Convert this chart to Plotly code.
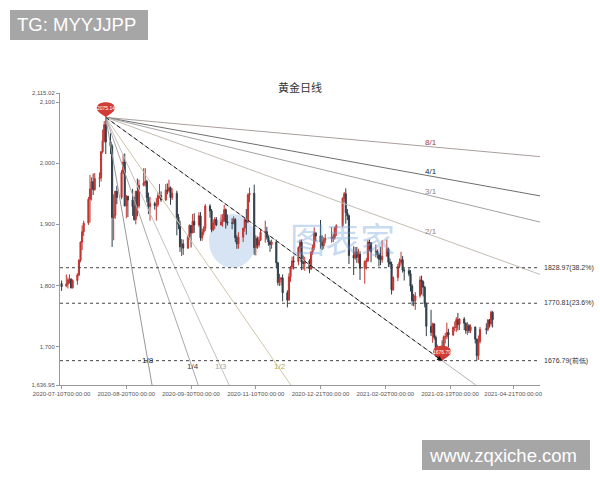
import pandas as pd
import plotly.graph_objects as go

# ---- daily gold candles (XAU/USD) ----
dates = [
    "2020-07-10", "2020-07-13", "2020-07-14", "2020-07-15", "2020-07-16", "2020-07-17",
    "2020-07-20", "2020-07-21", "2020-07-22", "2020-07-23", "2020-07-24",
    "2020-07-27", "2020-07-28", "2020-07-29", "2020-07-30", "2020-07-31",
    "2020-08-03", "2020-08-04", "2020-08-05", "2020-08-06", "2020-08-07",
    "2020-08-10", "2020-08-11", "2020-08-12", "2020-08-13", "2020-08-14",
    "2020-08-17", "2020-08-18", "2020-08-19", "2020-08-20", "2020-08-21",
    "2020-08-24", "2020-08-25", "2020-08-26", "2020-08-27", "2020-08-28", "2020-08-31",
    "2020-09-01", "2020-09-02", "2020-09-03", "2020-09-04",
    "2020-09-07", "2020-09-08", "2020-09-09", "2020-09-10", "2020-09-11",
    "2020-09-14", "2020-09-15", "2020-09-16", "2020-09-17", "2020-09-18",
    "2020-09-21", "2020-09-22", "2020-09-23", "2020-09-24", "2020-09-25",
    "2020-09-28", "2020-09-29", "2020-09-30",
    "2020-10-01", "2020-10-02",
    "2020-10-05", "2020-10-06", "2020-10-07", "2020-10-08", "2020-10-09",
    "2020-10-12", "2020-10-13", "2020-10-14", "2020-10-15", "2020-10-16",
    "2020-10-19", "2020-10-20", "2020-10-21", "2020-10-22", "2020-10-23",
    "2020-10-26", "2020-10-27", "2020-10-28", "2020-10-29", "2020-10-30",
    "2020-11-02", "2020-11-03", "2020-11-04", "2020-11-05", "2020-11-06",
    "2020-11-09", "2020-11-10", "2020-11-11", "2020-11-12", "2020-11-13",
    "2020-11-16", "2020-11-17", "2020-11-18", "2020-11-19", "2020-11-20",
    "2020-11-23", "2020-11-24", "2020-11-25", "2020-11-26", "2020-11-27", "2020-11-30",
    "2020-12-01", "2020-12-02", "2020-12-03", "2020-12-04",
    "2020-12-07", "2020-12-08", "2020-12-09", "2020-12-10", "2020-12-11",
    "2020-12-14", "2020-12-15", "2020-12-16", "2020-12-17", "2020-12-18",
    "2020-12-21", "2020-12-22", "2020-12-23", "2020-12-24",
    "2020-12-28", "2020-12-29", "2020-12-30", "2020-12-31",
    "2021-01-04", "2021-01-05", "2021-01-06", "2021-01-07", "2021-01-08",
    "2021-01-11", "2021-01-12", "2021-01-13", "2021-01-14", "2021-01-15",
    "2021-01-18", "2021-01-19", "2021-01-20", "2021-01-21", "2021-01-22",
    "2021-01-25", "2021-01-26", "2021-01-27", "2021-01-28", "2021-01-29",
    "2021-02-01", "2021-02-02", "2021-02-03", "2021-02-04", "2021-02-05",
    "2021-02-08", "2021-02-09", "2021-02-10", "2021-02-11", "2021-02-12",
    "2021-02-15", "2021-02-16", "2021-02-17", "2021-02-18", "2021-02-19",
    "2021-02-22", "2021-02-23", "2021-02-24", "2021-02-25", "2021-02-26",
    "2021-03-01", "2021-03-02", "2021-03-03", "2021-03-04", "2021-03-05",
    "2021-03-08", "2021-03-09", "2021-03-10", "2021-03-11", "2021-03-12",
    "2021-03-15", "2021-03-16", "2021-03-17", "2021-03-18", "2021-03-19",
    "2021-03-22", "2021-03-23", "2021-03-24", "2021-03-25", "2021-03-26",
    "2021-03-29", "2021-03-30", "2021-03-31",
    "2021-04-01", "2021-04-05", "2021-04-06", "2021-04-07", "2021-04-08", "2021-04-09",
]

opens = [
    1803, 1799, 1802, 1809, 1810, 1796, 1808, 1817, 1841, 1871, 1888, 1902, 1941, 1958, 1970, 1957,
    1975, 1976, 2019, 2037, 2063, 2035, 2028, 1911, 1915, 1954, 1944, 1985, 2002, 1930, 1946,
    1940, 1929, 1908, 1954, 1930, 1964,
    1968, 1970, 1944, 1929, 1934, 1931, 1932, 1947, 1947, 1940, 1956, 1955, 1960, 1944, 1951,
    1912, 1900, 1863, 1868, 1861, 1880, 1898,
    1886, 1905, 1899, 1914, 1878, 1887, 1893, 1930, 1922, 1891, 1902, 1908, 1899, 1904, 1907,
    1924, 1904, 1902, 1902, 1908, 1878, 1868,
    1879, 1894, 1908, 1904, 1948, 1951, 1862, 1877, 1866, 1874, 1887, 1888, 1879, 1871, 1867,
    1871, 1837, 1805, 1810, 1812, 1788,
    1776, 1814, 1830, 1840, 1839, 1862, 1871, 1838, 1836, 1840, 1827, 1855, 1863, 1886, 1881,
    1871, 1865, 1874, 1877, 1879, 1878, 1894,
    1898, 1943, 1950, 1919, 1914, 1849, 1845, 1855, 1846, 1851, 1828, 1839, 1840, 1871, 1870,
    1855, 1856, 1850, 1843, 1842,
    1848, 1860, 1838, 1835, 1793, 1813, 1831, 1838, 1842, 1825, 1824, 1819, 1799, 1775, 1775,
    1783, 1809, 1806, 1797, 1770,
    1733, 1723, 1737, 1715, 1698, 1700, 1683, 1716, 1716, 1723, 1719, 1731, 1731, 1744, 1736,
    1745, 1738, 1726, 1734, 1726, 1732, 1712, 1685,
    1708, 1729, 1728, 1743, 1737, 1756,
]

highs = [
    1808, 1818, 1813, 1818, 1812, 1810, 1820, 1843, 1872, 1898, 1906, 1945, 1981, 1977, 1983, 1984,
    1985, 2020, 2055, 2069, 2075.14, 2049, 2031, 1949, 1955, 1963, 1989, 2015, 2016, 1948, 1946,
    1958, 1945, 1955, 1975, 1973, 1992,
    1992, 1973, 1952, 1945, 1937, 1943, 1952, 1966, 1954, 1966, 1967, 1973, 1962, 1959, 1955,
    1917, 1906, 1876, 1875, 1882, 1900, 1899,
    1917, 1918, 1920, 1920, 1893, 1897, 1933, 1933, 1925, 1908, 1912, 1912, 1916, 1917, 1932,
    1926, 1916, 1910, 1913, 1910, 1882, 1887,
    1894, 1910, 1925, 1951, 1960, 1965, 1882, 1880, 1880, 1892, 1906, 1896, 1883, 1874, 1875,
    1875, 1838, 1819, 1814, 1818, 1792,
    1820, 1832, 1847, 1848, 1864, 1875, 1875, 1849, 1847, 1843, 1855, 1867, 1895, 1887, 1907,
    1882, 1879, 1884, 1895, 1884, 1896, 1900,
    1944, 1953, 1959, 1925, 1916, 1864, 1863, 1863, 1860, 1856, 1841, 1845, 1874, 1875, 1870,
    1867, 1859, 1853, 1863, 1874,
    1875, 1862, 1844, 1839, 1815, 1835, 1844, 1855, 1848, 1828, 1828, 1825, 1802, 1786, 1789,
    1815, 1816, 1808, 1799, 1772,
    1760, 1739, 1738, 1718, 1703, 1710, 1718, 1722, 1739, 1729, 1733, 1741, 1748, 1755, 1746,
    1748, 1739, 1740, 1737, 1736, 1732, 1713, 1718,
    1732, 1738, 1745, 1745, 1759, 1758,
]

lows = [
    1791, 1797, 1795, 1803, 1795, 1795, 1801, 1815, 1838, 1858, 1881, 1899, 1903, 1939, 1948, 1955,
    1961, 1970, 2016, 2034, 2015, 2015, 1863, 1874, 1909, 1933, 1941, 1982, 1931, 1910, 1912,
    1914, 1906, 1900, 1913, 1926, 1962,
    1962, 1936, 1917, 1906, 1924, 1906, 1928, 1942, 1937, 1938, 1949, 1952, 1932, 1940, 1882,
    1892, 1855, 1848, 1850, 1860, 1875, 1862,
    1886, 1886, 1896, 1873, 1873, 1882, 1889, 1911, 1887, 1889, 1892, 1897, 1898, 1896, 1904,
    1893, 1898, 1892, 1900, 1871, 1860, 1860,
    1871, 1888, 1883, 1902, 1936, 1850, 1849, 1860, 1862, 1873, 1870, 1875, 1865, 1855, 1860,
    1828, 1800, 1799, 1800, 1774, 1764,
    1775, 1806, 1826, 1826, 1833, 1852, 1825, 1826, 1824, 1820, 1825, 1850, 1858, 1872, 1860,
    1858, 1860, 1869, 1870, 1871, 1875, 1881,
    1895, 1936, 1901, 1907, 1835, 1817, 1842, 1837, 1836, 1809, 1803, 1826, 1838, 1856, 1838,
    1846, 1844, 1831, 1833, 1837,
    1847, 1830, 1830, 1785, 1791, 1807, 1828, 1834, 1821, 1808, 1815, 1790, 1767, 1766, 1760,
    1780, 1785, 1782, 1764, 1717,
    1717, 1706, 1711, 1687, 1687, 1676.79, 1681, 1705, 1712, 1699, 1717, 1725, 1724, 1726, 1727,
    1727, 1721, 1719, 1722, 1722, 1705, 1677, 1678,
    1705, 1720, 1725, 1731, 1733, 1731,
]

closes = [
    1798, 1802, 1809, 1810, 1796, 1808, 1817, 1841, 1871, 1888, 1902, 1941, 1958, 1970, 1957, 1975,
    1976, 2019, 2037, 2063, 2035, 2028, 1911, 1915, 1954, 1944, 1985, 2002, 1930, 1946, 1940,
    1929, 1908, 1954, 1930, 1964, 1968,
    1970, 1944, 1929, 1934, 1931, 1932, 1947, 1947, 1940, 1956, 1955, 1960, 1944, 1951, 1912,
    1900, 1863, 1868, 1861, 1880, 1898, 1886,
    1905, 1899, 1914, 1878, 1887, 1893, 1930, 1922, 1891, 1902, 1908, 1899, 1904, 1907, 1924,
    1904, 1902, 1902, 1908, 1878, 1868, 1879,
    1894, 1908, 1904, 1948, 1951, 1862, 1877, 1866, 1874, 1887, 1888, 1879, 1871, 1867, 1871,
    1837, 1805, 1810, 1812, 1788, 1776,
    1814, 1830, 1840, 1839, 1862, 1871, 1838, 1836, 1840, 1827, 1855, 1863, 1886, 1881, 1871,
    1865, 1874, 1877, 1879, 1878, 1894, 1898,
    1943, 1950, 1919, 1914, 1849, 1845, 1855, 1846, 1851, 1828, 1839, 1840, 1871, 1870, 1855,
    1856, 1850, 1843, 1842, 1848,
    1860, 1838, 1835, 1793, 1813, 1831, 1838, 1842, 1825, 1824, 1819, 1799, 1775, 1775, 1783,
    1809, 1806, 1797, 1770, 1733,
    1723, 1737, 1715, 1698, 1700, 1683, 1716, 1716, 1723, 1719, 1731, 1731, 1744, 1736, 1745,
    1738, 1726, 1734, 1726, 1732, 1712, 1685, 1708,
    1728, 1728, 1743, 1737, 1756, 1744,
]

for name, arr in (("opens", opens), ("highs", highs), ("lows", lows), ("closes", closes)):
    if len(arr) != len(dates):
        raise ValueError(f"{name}: {len(arr)} values for {len(dates)} dates")

# ---- swing points and retracement levels ----
peak_date, peak_price = "2020-08-07", 2075.14
low_date, low_price = "2021-03-08", 1676.79

fib_levels = [1828.97, 1770.81, 1676.79]
fib_labels = ["1828.97(38.2%)", "1770.81(23.6%)", "1676.79(前低)"]

# Gann fan: slope factors relative to the 1/1 line (peak -> low)
fan_names = ["8/1", "4/1", "3/1", "2/1", "1/1", "1/2", "1/3", "1/4", "1/8"]
fan_factors = [1 / 8, 1 / 4, 1 / 3, 1 / 2, 1, 2, 3, 4, 8]
fan_colors = ["#a89f9c", "#6e6e6e", "#a2a2a2", "#c4bcb2", "#b4b4b4",
              "#cfc6a8", "#c2c2c2", "#a8a8a8", "#979797"]
fan_label_colors = {"8/1": "#a03a34", "4/1": "#1e1e1e", "3/1": "#858585", "2/1": "#958470",
                    "1/2": "#c4ae3a", "1/3": "#a5a5a5", "1/4": "#3c3c3c", "1/8": "#2c2c2c"}
# label anchor points in plot-area fractions
fan_label_pos = {"8/1": (0.773, 0.829), "4/1": (0.773, 0.730), "3/1": (0.773, 0.662),
                 "2/1": (0.773, 0.525), "1/8": (0.183, 0.084), "1/4": (0.277, 0.063),
                 "1/3": (0.335, 0.063), "1/2": (0.458, 0.063)}

y_min, y_max = 1636.95, 2115.02
x_start, x_end = "2020-07-09", "2021-05-09"

x_tick_dates = ["2020-07-10", "2020-08-20", "2020-09-30", "2020-11-10",
                "2020-12-21", "2021-01-31", "2021-03-13", "2021-04-22"]
x_tick_text = ["2020-07-10T00:00:00", "2020-08-20T00:00:00", "2020-09-30T00:00:00",
               "2020-11-10T00:00:00", "2020-12-21T00:00:00", "2021-02-02T00:00:00",
               "2021-03-13T00:00:00", "2021-04-21T00:00:00"]
y_tick_vals = [1636.95, 1700, 1800, 1900, 2000, 2100, 2115.02]
y_tick_text = ["1,636.95", "1,700", "1,800", "1,900", "2,000", "2,100", "2,115.02"]

UP = "#c23531"
DOWN = "#2f3d48"
PIN = "#d23c36"

fig = go.Figure()

# Gann fan lines, clipped at the right edge or the bottom of the axes
t_peak = pd.Timestamp(peak_date)
t_low = pd.Timestamp(low_date)
t_end = pd.Timestamp(x_end)
day = pd.Timedelta(days=1)
base_slope = (peak_price - low_price) / ((t_low - t_peak) / day)
for name, factor, color in zip(fan_names, fan_factors, fan_colors):
    slope = base_slope * factor
    span = min((t_end - t_peak) / day, (peak_price - y_min) / slope)
    t_stop = t_peak + pd.Timedelta(days=span)
    fig.add_trace(go.Scatter(
        x=[t_peak, t_stop], y=[peak_price, peak_price - slope * span],
        mode="lines", line=dict(color=color, width=1), hoverinfo="skip"))

# dashed peak-to-low connector
fig.add_trace(go.Scatter(
    x=[peak_date, low_date], y=[peak_price, low_price], mode="lines",
    line=dict(color="#1a1a1a", width=1, dash="4px,3px"), hoverinfo="skip"))

# retracement levels
for level in fib_levels:
    fig.add_trace(go.Scatter(
        x=[x_start, x_end], y=[level, level], mode="lines",
        line=dict(color="#444444", width=1, dash="3px,3px"), hoverinfo="skip"))

fig.add_trace(go.Candlestick(
    x=dates, open=opens, high=highs, low=lows, close=closes,
    increasing=dict(line=dict(color=UP, width=1), fillcolor=UP),
    decreasing=dict(line=dict(color=DOWN, width=1), fillcolor=DOWN),
    whiskerwidth=0, hoverinfo="skip"))

annotations = []
shapes = []

# light logo watermark behind the candles
shapes.append(dict(type="circle", xref="paper", yref="paper", layer="below",
                   x0=(209 - 60) / 480, x1=(256 - 60) / 480,
                   y0=(385 - 268) / 292, y1=(385 - 214) / 292,
                   fillcolor="rgba(120,165,220,0.30)", line=dict(width=0)))
annotations.append(dict(text="图表家", xref="paper", yref="paper",
                        x=(342 - 60) / 480, y=(385 - 237) / 292,
                        xanchor="center", yanchor="middle",
                        showarrow=False, font=dict(size=35, color="rgba(110,160,220,0.40)",
                                                   family="Noto Sans CJK SC")))

# balloon markers on the swing high / low
pin_path = "M 0 0 C -3 3 -9 5 -9 9 C -9 13 -5 15 0 15 C 5 15 9 13 9 9 C 9 5 3 3 0 0 Z"
for d, p in ((peak_date, peak_price), (low_date, low_price)):
    shapes.append(dict(type="path", xref="x", yref="y", xsizemode="pixel", ysizemode="pixel",
                       xanchor=d, yanchor=p, path=pin_path, fillcolor=PIN,
                       line=dict(width=0)))
    annotations.append(dict(x=d, y=p, xref="x", yref="y", yshift=9, showarrow=False,
                            xanchor="center", yanchor="middle",
                            text=f"{p:.2f}", font=dict(size=5, color="white")))

# arrow head at the end of the connector
annotations.append(dict(x=low_date, y=low_price, xref="x", yref="y",
                        ax=(t_low - pd.Timedelta(days=5)).strftime("%Y-%m-%d"),
                        ay=low_price + base_slope * 5, axref="x", ayref="y",
                        text="", showarrow=True, arrowhead=2, arrowsize=1,
                        arrowwidth=1, arrowcolor="#111111", standoff=0))

for level, label in zip(fib_levels, fib_labels):
    annotations.append(dict(x=1, xref="paper", y=level, yref="y", xanchor="left",
                            yanchor="middle", xshift=2,
                            text=label, showarrow=False,
                            font=dict(size=7, color="#333333")))

for name, (px, py) in fan_label_pos.items():
    annotations.append(dict(x=px, y=py, xref="paper", yref="paper", text=name,
                            xanchor="center", yanchor="middle", showarrow=False,
                            font=dict(size=8, color=fan_label_colors[name])))

# grey banner boxes
for (x0, x1, y0, y1, text) in (
    (10, 148, 10, 40, "TG: MYYJJPP"),
    (422, 590, 440, 470, "www.zqxiche.com"),
):
    shapes.append(dict(type="rect", xref="paper", yref="paper",
                       x0=(x0 - 60) / 480, x1=(x1 - 60) / 480,
                       y0=(385 - y1) / 292, y1=(385 - y0) / 292,
                       fillcolor="#a6a6a6", line=dict(width=0), layer="above"))
    annotations.append(dict(x=(x0 + 5 - 60) / 480, y=(385 - (y0 + y1) / 2) / 292,
                            xref="paper", yref="paper", xanchor="left", yanchor="middle",
                            text=text, showarrow=False,
                            font=dict(size=18.5, color="white", family="Liberation Sans")))

fig.update_layout(
    width=600, height=480,
    margin=dict(l=60, r=60, t=93, b=95),
    paper_bgcolor="white", plot_bgcolor="white",
    showlegend=False, boxgap=0,
    font=dict(family="Liberation Sans", color="#555555"),
    title=dict(text="黄金日线", x=0.5, xanchor="center", y=1 - 88 / 480, yanchor="middle",
               font=dict(size=11, color="#333333", family="Noto Sans CJK SC")),
    shapes=shapes, annotations=annotations,
    xaxis=dict(type="date", range=[x_start, x_end], rangeslider=dict(visible=False),
               showgrid=False, zeroline=False, showline=True, linecolor="#999999",
               ticks="outside", ticklen=3, tickcolor="#999999",
               tickvals=x_tick_dates, ticktext=x_tick_text,
               tickfont=dict(size=6, color="#555555")),
    yaxis=dict(range=[y_min, y_max], showgrid=False, zeroline=False, showline=True,
               linecolor="#999999", ticks="outside", ticklen=3, tickcolor="#999999",
               tickvals=y_tick_vals, ticktext=y_tick_text,
               tickfont=dict(size=6, color="#555555")),
)

fig.write_html("out.html")
